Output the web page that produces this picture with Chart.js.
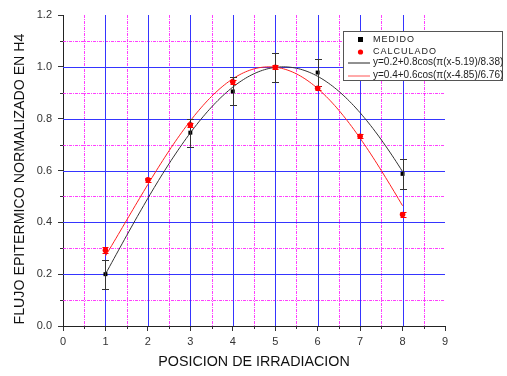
<!DOCTYPE html>
<html>
<head>
<meta charset="utf-8">
<script src="https://cdn.jsdelivr.net/npm/chart.js@4/dist/chart.umd.min.js"></script>
<style>
  html, body { margin: 0; padding: 0; background: #fff; }
  #wrap { width: 507px; height: 376px; }
</style>
</head>
<body>
<div id="wrap"><canvas id="fluxChart" width="507" height="376"></canvas></div>
<script>
// measured flux per irradiation position, with error bars
const medidoX = [1, 3, 4, 5, 6, 8];
const medidoY = [0.200, 0.746, 0.905, 0.997, 0.978, 0.587];
const medidoErr = [0.056, 0.054, 0.054, 0.055, 0.053, 0.057];

// calculated flux
const calcX = [1, 2, 3, 4, 5, 6, 7, 8];
const calcY = [0.292, 0.564, 0.776, 0.942, 0.998, 0.917, 0.732, 0.430];
const calcErr = [0.011, 0.008, 0.009, 0.009, 0.008, 0.008, 0.008, 0.010];

// fit curves y = a + b*cos(pi*(x-c)/w), black then red
const fitA = [0.2, 0.4];
const fitB = [0.8, 0.6];
const fitC = [5.19, 4.85];
const fitW = [8.38, 6.76];
const fitRange = [1, 8];

const xTicks = [0, 1, 2, 3, 4, 5, 6, 7, 8, 9];
const yTicks = [0.0, 0.2, 0.4, 0.6, 0.8, 1.0, 1.2];
const xMinor = [0.5, 1.5, 2.5, 3.5, 4.5, 5.5, 6.5, 7.5, 8.5];
const yMinor = [0.1, 0.3, 0.5, 0.7, 0.9, 1.1];

const yTitle = 'FLUJO EPITERMICO NORMALIZADO EN H4';
const FONT = '"Liberation Sans", Arial, sans-serif';

function fitLabel(i) {
  return 'y=' + fitA[i] + '+' + fitB[i] + 'cos(\u03c0(x-' + fitC[i] + ')/' + fitW[i] + ')';
}

function fitPoints(i) {
  const pts = [];
  for (let x = fitRange[0]; x <= fitRange[1] + 1e-9; x += 0.05) {
    pts.push({ x: x, y: fitA[i] + fitB[i] * Math.cos(Math.PI * (x - fitC[i]) / fitW[i]) });
  }
  return pts;
}

const toXY = (xs, ys) => xs.map((x, i) => ({ x: x, y: ys[i] }));

// dotted minor grid, solid blue major grid and minor tick marks
const gridPlugin = {
  id: 'plotGrid',
  beforeDatasetsDraw(chart) {
    const { ctx, chartArea: a, scales: { x, y } } = chart;
    const px = v => Math.round(x.getPixelForValue(v)) + 0.5;
    const py = v => Math.round(y.getPixelForValue(v)) + 0.5;
    const vline = v => { ctx.beginPath(); ctx.moveTo(px(v), a.top); ctx.lineTo(px(v), a.bottom); ctx.stroke(); };
    const hline = v => { ctx.beginPath(); ctx.moveTo(a.left, py(v)); ctx.lineTo(a.right, py(v)); ctx.stroke(); };
    ctx.save();
    ctx.lineWidth = 1;

    ctx.strokeStyle = 'rgba(255, 30, 255, 0.85)';
    ctx.setLineDash([3, 1, 1, 1]);
    xMinor.forEach(vline);
    yMinor.forEach(hline);

    ctx.setLineDash([]);
    ctx.strokeStyle = '#3535ff';
    xTicks.filter(v => v > 0 && v < 9).forEach(vline);
    yTicks.filter(v => v > 0 && v < 1.2).forEach(hline);

    // minor ticks outside the axes
    ctx.strokeStyle = '#333';
    xMinor.forEach(v => {
      ctx.beginPath(); ctx.moveTo(px(v), a.bottom); ctx.lineTo(px(v), a.bottom + 3); ctx.stroke();
    });
    yMinor.forEach(v => {
      ctx.beginPath(); ctx.moveTo(a.left, py(v)); ctx.lineTo(a.left - 3, py(v)); ctx.stroke();
    });
    ctx.restore();
  }
};

// vertical error bars with caps
const errorBarPlugin = {
  id: 'errorBars',
  afterDatasetsDraw(chart) {
    const { ctx, scales: { x, y } } = chart;
    chart.data.datasets.forEach(ds => {
      if (!ds.errors) return;
      ctx.save();
      ctx.strokeStyle = ds.errorColor;
      ctx.lineWidth = 1;
      ds.data.forEach((p, i) => {
        const cx = Math.round(x.getPixelForValue(p.x)) + 0.5;
        const y1 = Math.round(y.getPixelForValue(p.y + ds.errors[i])) + 0.5;
        const y2 = Math.round(y.getPixelForValue(p.y - ds.errors[i])) + 0.5;
        const w = ds.capHalf;
        ctx.beginPath();
        ctx.moveTo(cx, y1); ctx.lineTo(cx, y2);
        ctx.moveTo(cx - w, y1); ctx.lineTo(cx + w, y1);
        ctx.moveTo(cx - w, y2); ctx.lineTo(cx + w, y2);
        ctx.stroke();
      });
      ctx.restore();
    });
  }
};

// rotated y title and boxed legend
const legendPlugin = {
  id: 'boxLegend',
  afterDraw(chart) {
    const { ctx } = chart;
    const ds = chart.data.datasets;

    ctx.save();
    ctx.translate(20, 179);
    ctx.rotate(-Math.PI / 2);
    ctx.fillStyle = '#111';
    ctx.font = '14.2px ' + FONT;
    ctx.textAlign = 'center';
    ctx.textBaseline = 'middle';
    ctx.fillText(yTitle, 0, 0);
    ctx.restore();

    const bx = 343.5, by = 31.5, bw = 159, bh = 49;
    ctx.save();
    ctx.fillStyle = '#fff';
    ctx.fillRect(bx, by, bw, bh);
    ctx.strokeStyle = '#555';
    ctx.lineWidth = 1;
    ctx.strokeRect(bx, by, bw, bh);

    const rows = [39.5, 52, 62.5, 75.5];
    ctx.textBaseline = 'middle';

    // marker rows
    ctx.fillStyle = '#000';
    ctx.fillRect(358, rows[0] - 2.5, 5, 5);
    ctx.fillStyle = '#ff0000';
    ctx.beginPath(); ctx.arc(360.5, rows[1], 2.6, 0, Math.PI * 2); ctx.fill();

    ctx.fillStyle = '#222';
    ctx.font = '9px ' + FONT;
    ctx.letterSpacing = '1px';
    ctx.fillText(ds[0].label, 373, rows[0]);
    ctx.fillText(ds[1].label, 373, rows[1]);

    // line rows
    ctx.letterSpacing = '0px';
    ctx.font = '10px ' + FONT;
    ctx.strokeStyle = '#222';
    ctx.beginPath(); ctx.moveTo(348, rows[2] + 0.5); ctx.lineTo(370, rows[2] + 0.5); ctx.stroke();
    ctx.strokeStyle = '#ff5555';
    ctx.beginPath(); ctx.moveTo(348, rows[3] + 0.5); ctx.lineTo(370, rows[3] + 0.5); ctx.stroke();
    ctx.fillText(ds[2].label, 373, rows[2]);
    ctx.fillText(ds[3].label, 373, rows[3]);
    ctx.restore();
  }
};

new Chart(document.getElementById('fluxChart').getContext('2d'), {
  type: 'scatter',
  data: {
    datasets: [
      {
        label: 'MEDIDO',
        data: toXY(medidoX, medidoY),
        errors: medidoErr,
        errorColor: '#333',
        capHalf: 3.5,
        pointStyle: 'rect',
        pointRadius: 2.8,
        backgroundColor: '#000',
        borderColor: '#000',
        borderWidth: 0,
        order: 1
      },
      {
        label: 'CALCULADO',
        data: toXY(calcX, calcY),
        errors: calcErr,
        errorColor: '#ff0000',
        capHalf: 3,
        pointStyle: 'circle',
        pointRadius: 2.8,
        backgroundColor: '#ff0000',
        borderColor: '#ff0000',
        borderWidth: 0,
        order: 0
      },
      {
        label: fitLabel(0),
        data: fitPoints(0),
        showLine: true,
        pointRadius: 0,
        borderColor: '#333',
        borderWidth: 1,
        order: 3
      },
      {
        label: fitLabel(1),
        data: fitPoints(1),
        showLine: true,
        pointRadius: 0,
        borderColor: '#ff2020',
        borderWidth: 1,
        order: 2
      }
    ]
  },
  options: {
    responsive: false,
    animation: false,
    devicePixelRatio: 1,
    layout: { padding: { top: 15, right: 62, bottom: 0, left: 0 } },
    plugins: {
      legend: { display: false },
      tooltip: { enabled: false }
    },
    scales: {
      x: {
        type: 'linear',
        min: 0,
        max: 9,
        afterFit: s => { s.height = 50; },
        afterBuildTicks: s => { s.ticks = xTicks.map(v => ({ value: v })); },
        ticks: {
          color: '#333',
          padding: 4,
          font: { family: FONT, size: 11 },
          callback: v => String(v)
        },
        grid: { drawOnChartArea: false, drawTicks: true, tickLength: 5, tickColor: '#333' },
        border: { display: true, color: '#222', width: 1 },
        title: {
          display: true,
          text: 'POSICION DE IRRADIACION',
          color: '#111',
          padding: { top: 0, bottom: 5 },
          font: { family: FONT, size: 14.3 }
        }
      },
      y: {
        type: 'linear',
        min: 0,
        max: 1.2,
        afterFit: s => { s.width = 63; },
        afterBuildTicks: s => { s.ticks = yTicks.map(v => ({ value: v })); },
        ticks: {
          color: '#333',
          padding: 6,
          font: { family: FONT, size: 11 },
          callback: v => v.toFixed(1)
        },
        grid: { drawOnChartArea: false, drawTicks: true, tickLength: 5, tickColor: '#333' },
        border: { display: true, color: '#222', width: 1 }
      }
    }
  },
  plugins: [gridPlugin, errorBarPlugin, legendPlugin]
});
</script>
</body>
</html>
